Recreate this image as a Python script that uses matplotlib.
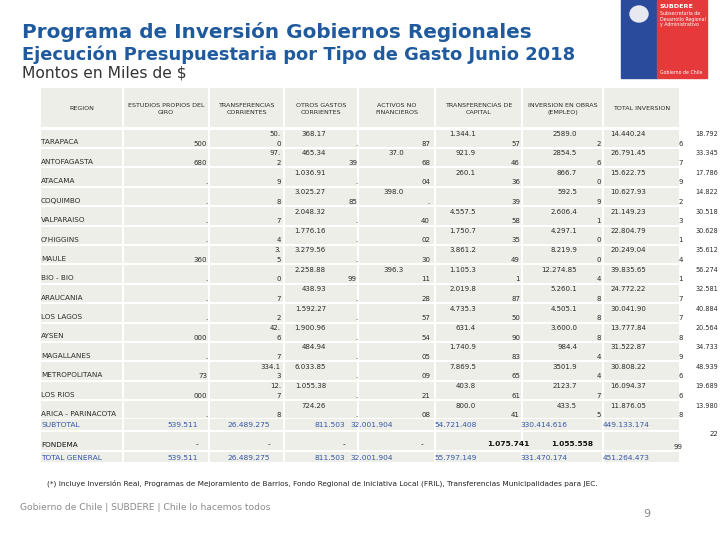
# Programa de Inversión Gobiernos Regionales - tabla de ejecución presupuestaria

import matplotlib.pyplot as plt
from matplotlib.patches import Rectangle, Ellipse

# --- Data (as printed on the slide, fragments included) ---
headers = ["REGION", "ESTUDIOS PROPIOS DEL\nGIRO", "TRANSFERENCIAS\nCORRIENTES",
           "OTROS GASTOS\nCORRIENTES", "ACTIVOS NO\nFINANCIEROS",
           "TRANSFERENCIAS DE\nCAPITAL", "INVERSION EN OBRAS\n(EMPLEO)", "TOTAL INVERSION"]

regions = ["TARAPACA", "ANTOFAGASTA", "ATACAMA", "COQUIMBO", "VALPARAISO", "O'HIGGINS",
           "MAULE", "BIO - BIO", "ARAUCANIA", "LOS LAGOS", "AYSEN", "MAGALLANES",
           "METROPOLITANA", "LOS RIOS", "ARICA - PARINACOTA"]

estudios = ["500", "680", ".", ".", ".", ".", "360", ".", ".", ".", "000", ".", "73", "000", "."]
transf_corr_top = ["50.", "97.", "", "", "", "", "3.", "", "", "", "42.", "", "334.1", "12.", ""]
transf_corr_bot = ["0", "2", "9", "8", "7", "4", "5", "0", "7", "2", "6", "7", "3", "7", "8"]
otros_top = ["368.17", "465.34", "1.036.91", "3.025.27", "2.048.32", "1.776.16", "3.279.56",
             "2.258.88", "438.93", "1.592.27", "1.900.96", "484.94", "6.033.85", "1.055.38", "724.26"]
otros_bot = [".", "39", ".", "85", ".", ".", ".", "99", ".", ".", ".", ".", ".", ".", "."]
activos_top = ["", "37.0", "", "398.0", "", "", "", "396.3", "", "", "", "", "", "", ""]
activos_bot = ["87", "68", "04", ".", "40", "02", "30", "11", "28", "57", "54", "05", "09", "21", "08"]
tcap_top = ["1.344.1", "921.9", "260.1", "", "4.557.5", "1.750.7", "3.861.2", "1.105.3",
            "2.019.8", "4.735.3", "631.4", "1.740.9", "7.869.5", "403.8", "800.0"]
tcap_bot = ["57", "46", "36", "39", "58", "35", "49", "1", "87", "50", "90", "83", "65", "61", "41"]
obras_top = ["2589.0", "2854.5", "866.7", "592.5", "2.606.4", "4.297.1", "8.219.9", "12.274.85",
             "5.260.1", "4.505.1", "3.600.0", "984.4", "3501.9", "2123.7", "433.5"]
obras_bot = ["2", "6", "0", "9", "1", "0", "0", "4", "8", "8", "8", "4", "4", "7", "5"]
total_top = ["14.440.24", "26.791.45", "15.622.75", "10.627.93", "21.149.23", "22.804.79",
             "20.249.04", "39.835.65", "24.772.22", "30.041.90", "13.777.84", "31.522.87",
             "30.808.22", "16.094.37", "11.876.05"]
total_bot = ["6", "7", "9", "2", "3", "1", "4", "1", "7", "7", "8", "9", "6", "6", "8"]
extra_col = ["18.792", "33.345", "17.786", "14.822", "30.518", "30.628", "35.612", "56.274",
             "32.581", "40.884", "20.564", "34.733", "48.939", "19.689", "13.980"]

summary_labels = ["SUBTOTAL", "FONDEMA", "TOTAL GENERAL"]
subtotal = ["539.511", "26.489.275", "811.503", "32.001.904", "54.721.408", "330.414.616", "449.133.174"]
fondema = ["-", "-", "-", "-", "1.075.741", "1.055.558", ""]
total_general = ["539.511", "26.489.275", "811.503", "32.001.904", "55.797.149", "331.470.174", "451.264.473"]

# --- Style ---
BLUE = "#1f5a9e"
CELL = "#eceee7"
TXT = "#2b2b2b"
SUMBLUE = "#3657a6"

fig = plt.figure(figsize=(7.2, 5.4), dpi=100)
ax = fig.add_axes([0, 0, 1, 1])
ax.set_xlim(0, 720)
ax.set_ylim(540, 0)
ax.axis("off")

# --- Titles ---
ax.text(22, 32, "Programa de Inversión Gobiernos Regionales", fontsize=14.4,
        fontweight="bold", color=BLUE, va="center")
ax.text(22, 55, "Ejecución Presupuestaria por Tipo de Gasto Junio 2018", fontsize=12.9,
        fontweight="bold", color=BLUE, va="center")
ax.text(22, 73, "Montos en Miles de $", fontsize=11.2, color="#333333", va="center")

# --- Logo block ---
ax.add_patch(Rectangle((621, 0), 36, 78, color="#2a4b9b"))
ax.add_patch(Rectangle((657, 0), 50, 78, color="#e5393b"))
ax.add_patch(Ellipse((639, 14), 18, 16, color="#e8e8f0"))
ax.text(660, 7, "SUBDERE", fontsize=4.6, fontweight="bold", color="white", va="center")
ax.text(660, 19, "Subsecretaría de\nDesarrollo Regional\ny Administrativo", fontsize=3.4,
        color="white", va="center", linespacing=1.2)
ax.text(660, 72, "Gobierno de Chile", fontsize=3.4, color="white", va="center")

# --- Table geometry ---
edges = [40, 123, 209, 284, 358, 435, 522, 603, 680]
head_top, head_bot = 88, 127
row0, rh = 129.5, 19.4
sum_rows = [(419, 430), (432, 450), (452, 462)]

for i in range(len(edges) - 1):
    x0, x1 = edges[i], edges[i + 1]
    ax.add_patch(Rectangle((x0 + 1, head_top), x1 - x0 - 2, head_bot - head_top, color=CELL, lw=0))
    for r in range(len(regions)):
        t = row0 + r * rh
        ax.add_patch(Rectangle((x0 + 1, t), x1 - x0 - 2, rh - 2, color=CELL, lw=0))
    for (t, b) in sum_rows:
        ax.add_patch(Rectangle((x0 + 1, t), x1 - x0 - 2, b - t, color=CELL, lw=0))

# headers
for i, h in enumerate(headers):
    cx = (edges[i] + edges[i + 1]) / 2
    ax.text(cx, 109, h, fontsize=4.6, color=TXT, ha="center", va="center", linespacing=1.6)

# region rows
fs = 5.0
top_cols = [(transf_corr_top, 281), (otros_top, 326), (activos_top, 404),
            (tcap_top, 476), (obras_top, 577), (total_top, 646)]
bot_cols = [(estudios, 207), (transf_corr_bot, 281), (otros_bot, 357), (activos_bot, 430),
            (tcap_bot, 520), (obras_bot, 601), (total_bot, 683)]

for r, name in enumerate(regions):
    t = row0 + r * rh
    ax.text(41, t + 13, name, fontsize=5.2, color=TXT, va="center")
    for vals, xr in top_cols:
        ax.text(xr, t + 4.5, vals[r], fontsize=fs, color=TXT, ha="right", va="center")
    for vals, xr in bot_cols:
        ax.text(xr, t + 14, vals[r], fontsize=fs, color=TXT, ha="right", va="center")
    ax.text(718, t + 4.5, extra_col[r], fontsize=4.7, color=TXT, ha="right", va="center")

# summary rows
sum_x = [198, 270, 345, 393, 477, 567, 650]
fond_x = [198, 270, 345, 423, 530, 593, 682]
ax.text(41, 425, summary_labels[0], fontsize=5.4, color=SUMBLUE, va="center")
ax.text(41, 445, summary_labels[1], fontsize=5.2, color="#111111", va="center")
ax.text(41, 458, summary_labels[2], fontsize=5.4, color=SUMBLUE, va="center")
for j in range(len(subtotal)):
    ax.text(sum_x[j], 425, subtotal[j], fontsize=5.4, color=SUMBLUE, ha="right", va="center")
    ax.text(fond_x[j], 444, fondema[j], fontsize=5.4, color="#111111", ha="right", va="center",
            fontweight="bold" if j in (4, 5) else "normal")
    ax.text(sum_x[j], 458, total_general[j], fontsize=5.4, color=SUMBLUE, ha="right", va="center")
ax.text(682, 447, "99", fontsize=fs, color=TXT, ha="right", va="center")
ax.text(718, 434, "22", fontsize=fs, color=TXT, ha="right", va="center")

# --- Footnote and footer ---
ax.text(47, 483, "(*) Incluye Inversión Real, Programas de Mejoramiento de Barrios, Fondo Regional "
        "de Iniciativa Local (FRIL), Transferencias Municipalidades para JEC.",
        fontsize=5.35, color="#222222", va="center")
ax.text(20, 508, "Gobierno de Chile | SUBDERE | Chile lo hacemos todos", fontsize=6.6,
        color="#8a8a8a", va="center")
ax.text(643, 514, "9", fontsize=8, color="#8a8a8a", va="center")

fig.savefig("out.png", dpi=100)
